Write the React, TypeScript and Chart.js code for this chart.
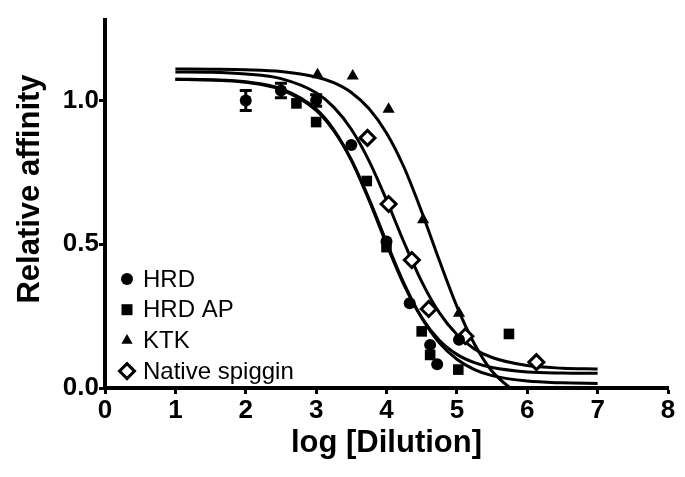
import React, { useEffect, useRef } from 'react';
import { Chart, registerables } from 'chart.js';

Chart.register(...registerables);

// ---------- data ----------
const seriesNames = ['HRD', 'HRD AP', 'KTK', 'Native spiggin'];

const hrdX = [2.0, 2.5, 3.0, 3.5, 4.0, 4.33, 4.62, 4.72, 5.03];
const hrdY = [1.0, 1.035, 1.0, 0.845, 0.51, 0.295, 0.15, 0.083, 0.168];
const hrdErr = [0.035, 0.025, 0.02, 0, 0, 0, 0, 0, 0];

const hrdApX = [2.72, 3.0, 3.72, 4.0, 4.5, 4.62, 5.02, 5.74];
const hrdApY = [0.99, 0.925, 0.72, 0.49, 0.197, 0.115, 0.064, 0.188];

const ktkX = [3.02, 3.52, 4.03, 4.52, 5.03];
const ktkY = [1.09, 1.085, 0.97, 0.585, 0.26];

const nativeX = [3.73, 4.03, 4.36, 4.6, 5.12, 6.13];
const nativeY = [0.87, 0.64, 0.445, 0.275, 0.18, 0.09];

// fitted curves
const curveX = [1, 1.5, 2, 2.5, 3, 3.25, 3.5, 3.75, 4, 4.25, 4.5, 4.75, 5, 5.25, 5.5, 6, 6.5, 7];
const hrdFit = [1.074, 1.071, 1.063, 1.038, 0.966, 0.895, 0.793, 0.659, 0.508, 0.363, 0.244, 0.157, 0.1, 0.064, 0.043, 0.024, 0.018, 0.016];
const hrdApFit = [1.074, 1.072, 1.065, 1.041, 0.97, 0.899, 0.793, 0.654, 0.501, 0.358, 0.245, 0.166, 0.117, 0.088, 0.071, 0.056, 0.052, 0.051];
const ktkFit = [1.11, 1.109, 1.107, 1.101, 1.082, 1.062, 1.028, 0.972, 0.887, 0.767, 0.613, 0.444, 0.284, 0.153, 0.058, -0.044, null, null];
const nativeFit = [1.099, 1.098, 1.092, 1.076, 1.027, 0.977, 0.9, 0.791, 0.654, 0.506, 0.37, 0.262, 0.186, 0.136, 0.106, 0.078, 0.069, 0.066];

const xTicks = [0, 1, 2, 3, 4, 5, 6, 7, 8];
const yTicks = [0, 0.5, 1.0];

const xTitle = 'log [Dilution]';
const yTitle = 'Relative affinity';

// ---------- helpers ----------
const FONT = '"Liberation Sans", Arial, Helvetica, sans-serif';
const pts = (xs: number[], ys: (number | null)[]) => xs.map((x, i) => ({ x, y: ys[i] }));

const markerStyles = ['circle', 'rect', 'triangle', 'rectRot'];

function drawMarker(ctx: CanvasRenderingContext2D, style: string, x: number, y: number) {
  ctx.save();
  ctx.fillStyle = '#000';
  ctx.strokeStyle = '#000';
  ctx.beginPath();
  if (style === 'circle') {
    ctx.arc(x, y, 6, 0, Math.PI * 2);
    ctx.fill();
  } else if (style === 'rect') {
    ctx.rect(x - 5.5, y - 5.5, 11, 11);
    ctx.fill();
  } else if (style === 'triangle') {
    const r = 6.5;
    ctx.moveTo(x, y - r);
    ctx.lineTo(x + r * 0.866, y + r * 0.5);
    ctx.lineTo(x - r * 0.866, y + r * 0.5);
    ctx.closePath();
    ctx.fill();
  } else {
    const r = 7.5;
    ctx.moveTo(x - r, y);
    ctx.lineTo(x, y - r);
    ctx.lineTo(x + r, y);
    ctx.lineTo(x, y + r);
    ctx.closePath();
    ctx.fillStyle = '#fff';
    ctx.fill();
    ctx.lineWidth = 3;
    ctx.stroke();
  }
  ctx.restore();
}

const legendPlugin = {
  id: 'insideLegend',
  afterDatasetsDraw(chart: any) {
    const ctx = chart.ctx as CanvasRenderingContext2D;
    const markerX = 127;
    const textX = 143;
    const top = 279;
    const step = 30.7;
    ctx.save();
    ctx.font = `24px ${FONT}`;
    ctx.textBaseline = 'middle';
    ctx.textAlign = 'left';
    ctx.fillStyle = '#000';
    seriesNames.forEach((name, i) => {
      const y = top + i * step;
      drawMarker(ctx, markerStyles[i], markerX, y);
      ctx.fillText(name, textX, y + 1);
    });
    ctx.restore();
  },
};

const yTitlePlugin = {
  id: 'yTitle',
  afterDraw(chart: any) {
    const ctx = chart.ctx as CanvasRenderingContext2D;
    ctx.save();
    ctx.translate(30, 189);
    ctx.rotate(-Math.PI / 2);
    ctx.font = `bold 31px ${FONT}`;
    ctx.textAlign = 'center';
    ctx.textBaseline = 'middle';
    ctx.fillStyle = '#000';
    ctx.fillText(yTitle, 0, 0);
    ctx.restore();
  },
};

const errorBarPlugin = {
  id: 'errorBars',
  afterDatasetsDraw(chart: any) {
    const ctx = chart.ctx as CanvasRenderingContext2D;
    const xs = chart.scales.x;
    const ys = chart.scales.y;
    ctx.save();
    ctx.strokeStyle = '#000';
    ctx.lineWidth = 3;
    hrdX.forEach((x, i) => {
      const e = hrdErr[i];
      if (!e) return;
      const px = xs.getPixelForValue(x);
      const y1 = ys.getPixelForValue(hrdY[i] + e);
      const y2 = ys.getPixelForValue(hrdY[i] - e);
      ctx.beginPath();
      ctx.moveTo(px, y1);
      ctx.lineTo(px, y2);
      ctx.moveTo(px - 6, y1);
      ctx.lineTo(px + 6, y1);
      ctx.moveTo(px - 6, y2);
      ctx.lineTo(px + 6, y2);
      ctx.stroke();
    });
    ctx.restore();
  },
};

export default function App() {
  const ref = useRef<HTMLCanvasElement | null>(null);

  useEffect(() => {
    if (!ref.current) return;
    const pointDs = (label: string, data: any[], style: string, radius: number, hollow = false) => ({
      label,
      data,
      showLine: false,
      pointStyle: style,
      pointRadius: radius,
      pointHoverRadius: radius,
      pointBackgroundColor: hollow ? '#fff' : '#000',
      pointBorderColor: '#000',
      pointBorderWidth: hollow ? 3 : 0,
      borderColor: '#000',
      backgroundColor: '#000',
    });
    const curveDs = (label: string, ys: (number | null)[]) => ({
      label,
      data: pts(curveX, ys),
      showLine: true,
      pointRadius: 0,
      borderColor: '#000',
      borderWidth: 3,
      cubicInterpolationMode: 'monotone',
      fill: false,
    });

    const chart = new Chart(ref.current, {
      type: 'scatter',
      data: {
        datasets: [
          pointDs(seriesNames[0], pts(hrdX, hrdY), 'circle', 6),
          pointDs(seriesNames[1], pts(hrdApX, hrdApY), 'rect', 7.5),
          pointDs(seriesNames[2], pts(ktkX, ktkY), 'triangle', 7),
          pointDs(seriesNames[3], pts(nativeX, nativeY), 'rectRot', 7.5, true),
          curveDs(seriesNames[0] + ' fit', hrdFit),
          curveDs(seriesNames[1] + ' fit', hrdApFit),
          curveDs(seriesNames[2] + ' fit', ktkFit),
          curveDs(seriesNames[3] + ' fit', nativeFit),
        ] as any,
      },
      options: {
        responsive: false,
        animation: false,
        events: [],
        layout: { padding: { left: 0, top: 20, right: 17, bottom: 0 } },
        plugins: {
          legend: { display: false },
          tooltip: { enabled: false },
        },
        scales: {
          x: {
            type: 'linear',
            min: xTicks[0],
            max: xTicks[xTicks.length - 1],
            afterBuildTicks: (s: any) => {
              s.ticks = xTicks.map((v) => ({ value: v }));
            },
            afterFit: (s: any) => {
              s.height = 89;
            },
            ticks: {
              color: '#000',
              padding: 1,
              font: { family: FONT, size: 26, weight: 'bold' },
              callback: (v: any) => String(v),
            },
            grid: {
              drawOnChartArea: false,
              drawTicks: true,
              tickLength: 6,
              tickWidth: 3,
              tickColor: '#000',
            },
            border: { color: '#000', width: 4 },
            title: {
              display: true,
              text: xTitle,
              color: '#000',
              font: { family: FONT, size: 31, weight: 'bold' },
              padding: { top: 0, bottom: 15 },
            },
          },
          y: {
            type: 'linear',
            min: 0,
            max: 1.28,
            afterBuildTicks: (s: any) => {
              s.ticks = yTicks.map((v) => ({ value: v }));
            },
            afterFit: (s: any) => {
              s.width = 105;
            },
            ticks: {
              color: '#000',
              padding: 0,
              font: { family: FONT, size: 26, weight: 'bold' },
              callback: (v: any) => Number(v).toFixed(1),
            },
            grid: {
              drawOnChartArea: false,
              drawTicks: true,
              tickLength: 6,
              tickWidth: 3,
              tickColor: '#000',
            },
            border: { color: '#000', width: 4 },
            title: { display: false },
          },
        },
      } as any,
      plugins: [errorBarPlugin, legendPlugin, yTitlePlugin],
    });
    return () => chart.destroy();
  }, []);

  return (
    <div style={{ position: 'fixed', left: 0, top: 0, width: 685, height: 477, background: '#fff' }}>
      <canvas ref={ref} width={685} height={477} style={{ display: 'block', width: 685, height: 477 }} />
    </div>
  );
}
